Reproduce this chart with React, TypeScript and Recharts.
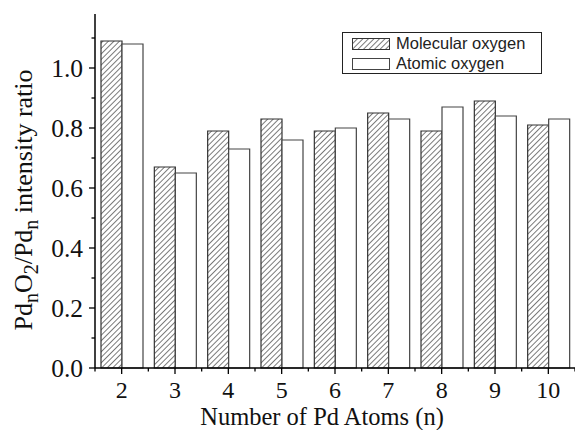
import { Bar, BarChart, Legend, XAxis, YAxis } from "recharts";

const atoms = ["2", "3", "4", "5", "6", "7", "8", "9", "10"];
const molecular = [1.09, 0.67, 0.79, 0.83, 0.79, 0.85, 0.79, 0.89, 0.81];
const atomic = [1.08, 0.65, 0.73, 0.76, 0.8, 0.83, 0.87, 0.84, 0.83];
const yTicks = [0, 0.1, 0.2, 0.3, 0.4, 0.5, 0.6, 0.7, 0.8, 0.9, 1.0, 1.1];

const W = 575;
const H = 430;
const LEFT = 95;
const BAND = (W - LEFT) / atoms.length;
const SERIF = "'Liberation Serif', 'Times New Roman', serif";

const data = atoms.map((n, i) => ({ n, molecular: molecular[i], atomic: atomic[i] }));

const BottomTick = ({ x, y, payload, index }: any) => (
  <g>
    <line x1={x} x2={x} y1={y} y2={y + 6} stroke="#000" strokeWidth={1.3} />
    <line x1={x - BAND / 2} x2={x - BAND / 2} y1={y} y2={y + 3.5} stroke="#000" strokeWidth={1.3} />
    {index === atoms.length - 1 && (
      <line x1={x + BAND / 2} x2={x + BAND / 2} y1={y} y2={y + 3.5} stroke="#000" strokeWidth={1.3} />
    )}
    <text x={x} y={y + 29.5} textAnchor="middle" fontFamily={SERIF} fontSize={24} fill="#111">
      {payload.value}
    </text>
  </g>
);

const TopTick = ({ x, y }: any) => (
  <g>
    <line x1={x} x2={x} y1={y} y2={y + 3.5} stroke="#000" strokeWidth={1.2} />
    <line x1={x - BAND / 2} x2={x - BAND / 2} y1={y} y2={y + 3} stroke="#000" strokeWidth={1.2} />
  </g>
);

const LeftTick = ({ x, y, payload }: any) => {
  const major = Math.round(payload.value * 10) % 2 === 0;
  return (
    <g>
      <line x1={x - (major ? 6 : 3.5)} x2={x} y1={y} y2={y} stroke="#000" strokeWidth={1.3} />
      {major && (
        <text x={x - 12} y={y + 9} textAnchor="end" fontFamily={SERIF} fontSize={25.5} fill="#111">
          {payload.value.toFixed(1)}
        </text>
      )}
    </g>
  );
};

const YLabel = () => (
  <text
    x={32}
    y={200}
    transform="rotate(-90, 32, 200)"
    textAnchor="middle"
    fontFamily={SERIF}
    fontSize={26}
    fill="#111"
  >
    <tspan>Pd</tspan>
    <tspan dy={6} fontSize={20}>n</tspan>
    <tspan dy={-6}>O</tspan>
    <tspan dy={6} fontSize={20}>2</tspan>
    <tspan dy={-6}>/Pd</tspan>
    <tspan dy={6} fontSize={20}>n</tspan>
    <tspan dy={-6}> intensity ratio</tspan>
  </text>
);

const XLabel = () => (
  <text x={322} y={425} textAnchor="middle" fontFamily={SERIF} fontSize={24.5} fill="#111">
    Number of Pd Atoms (n)
  </text>
);

const HatchSwatch = ({ id, w, h }: { id: string; w: number; h: number }) => (
  <svg width={w} height={h} style={{ display: "block" }}>
    <defs>
      <pattern id={id} width={3.9} height={10} patternUnits="userSpaceOnUse" patternTransform="rotate(45)">
        <line x1={0} y1={0} x2={0} y2={10} stroke="#333" strokeWidth={1.3} />
      </pattern>
    </defs>
    <rect x={0.5} y={0.5} width={w - 1} height={h - 1} fill={`url(#${id})`} stroke="#333" strokeWidth={1} />
  </svg>
);

const LegendBox = () => (
  <div
    style={{
      position: "relative",
      width: 200,
      height: 42,
      boxSizing: "border-box",
      border: "1px solid #222",
      background: "#fff",
      fontFamily: "'Liberation Sans', Arial, sans-serif",
      fontSize: 16.5,
      color: "#222",
    }}
  >
    <div style={{ position: "absolute", left: 9, top: 5 }}>
      <HatchSwatch id="legend-hatch" w={38} h={12} />
    </div>
    <div style={{ position: "absolute", left: 53, top: 1, lineHeight: "19px" }}>Molecular oxygen</div>
    <div style={{ position: "absolute", left: 9, top: 25 }}>
      <svg width={38} height={12} style={{ display: "block" }}>
        <rect x={0.5} y={0.5} width={37} height={11} fill="#fff" stroke="#444" strokeWidth={1} />
      </svg>
    </div>
    <div style={{ position: "absolute", left: 53, top: 20.5, lineHeight: "19px" }}>Atomic oxygen</div>
  </div>
);

export default function App() {
  return (
    <div style={{ width: W, height: H, background: "#fff" }}>
      <style>{`body{margin:0}`}</style>
      <BarChart
        width={W}
        height={H}
        data={data}
        margin={{ top: 14, right: 0, left: 0, bottom: 0 }}
        barGap={0}
        barSize={21}
      >
        <defs>
          <pattern id="hatch" width={3.9} height={10} patternUnits="userSpaceOnUse" patternTransform="rotate(45)">
            <line x1={0} y1={0} x2={0} y2={10} stroke="#333" strokeWidth={1.3} />
          </pattern>
        </defs>
        <XAxis
          dataKey="n"
          height={62}
          interval={0}
          tickLine={false}
          tickSize={0}
          tickMargin={0}
          axisLine={{ stroke: "#000", strokeWidth: 1.5 }}
          tick={<BottomTick />}
          label={<XLabel />}
        />
        <XAxis
          xAxisId="top"
          orientation="top"
          dataKey="n"
          height={0}
          interval={0}
          tickLine={false}
          tickSize={0}
          tickMargin={0}
          axisLine={{ stroke: "#000", strokeWidth: 1.5 }}
          tick={<TopTick />}
        />
        <YAxis
          width={LEFT}
          domain={[0, 1.18]}
          ticks={yTicks}
          interval={0}
          tickLine={false}
          tickSize={0}
          tickMargin={0}
          axisLine={{ stroke: "#000", strokeWidth: 1.5 }}
          tick={<LeftTick />}
          label={<YLabel />}
        />
        <Legend
          layout="vertical"
          align="center"
          verticalAlign="middle"
          content={<LegendBox />}
          wrapperStyle={{ position: "absolute", left: 342, top: 32, width: 200 }}
        />
        <Bar dataKey="molecular" fill="url(#hatch)" stroke="#333" strokeWidth={1.2} isAnimationActive={false} />
        <Bar dataKey="atomic" fill="#fff" stroke="#444" strokeWidth={1.2} isAnimationActive={false} />
      </BarChart>
    </div>
  );
}
